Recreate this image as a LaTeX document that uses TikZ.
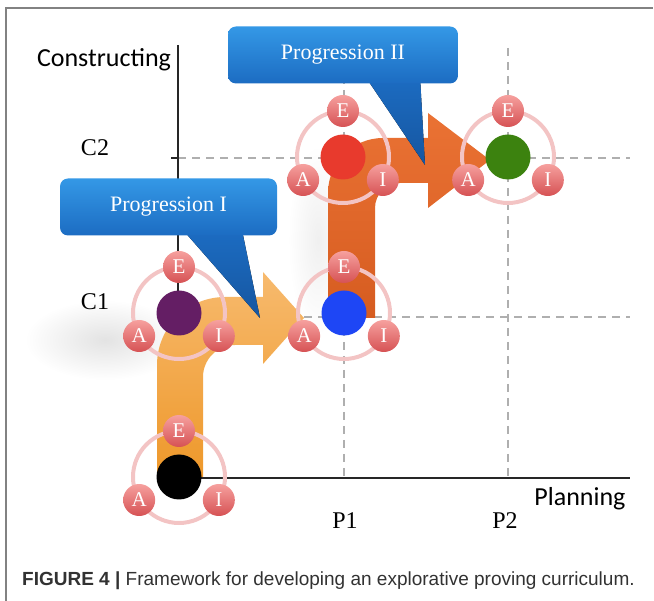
\documentclass[tikz,border=0pt]{standalone}
\usepackage{fontspec}
\setmainfont{Liberation Serif}
\newfontfamily\axisfont{Carlito}
\newfontfamily\capfont{Liberation Sans}
\usetikzlibrary{positioning}

\definecolor{framegray}{RGB}{130,130,130}
\definecolor{gridgray}{RGB}{175,175,175}
\definecolor{ringpink}{RGB}{243,196,196}
\definecolor{ballhi}{RGB}{246,160,158}
\definecolor{balllo}{RGB}{214,82,84}
\definecolor{lighttop}{RGB}{247,186,110}
\definecolor{lightbot}{RGB}{238,152,42}
\definecolor{darktop}{RGB}{234,114,52}
\definecolor{darkbot}{RGB}{214,92,32}
\definecolor{calltop}{RGB}{52,152,230}
\definecolor{callbot}{RGB}{28,108,194}
\definecolor{pointbot}{RGB}{22,86,160}
\definecolor{dotpurple}{RGB}{100,30,100}
\definecolor{dotblue}{RGB}{30,70,245}
\definecolor{dotred}{RGB}{232,58,45}
\definecolor{dotgreen}{RGB}{60,130,15}
\definecolor{captext}{RGB}{50,50,50}

\begin{document}
\begin{tikzpicture}[
    x=1pt, y=-1pt,
    dot/.style={circle, minimum size=45pt, inner sep=0pt},
    ball/.style={circle, minimum size=32pt, inner sep=0pt, top color=ballhi, bottom color=balllo,
                 text=white, font=\fontsize{21}{21}\selectfont},
    ring/.style={draw=ringpink, line width=4pt},
    grid/.style={draw=gridgray, line width=1.2pt, dash pattern=on 8pt off 6pt},
    axis/.style={draw=black!85, line width=1.4pt},
    callout/.style={rounded corners=8pt, top color=calltop, bottom color=callbot, text=white,
                    font=\fontsize{22}{22}\selectfont, minimum height=57pt, inner sep=0pt},
    pointer/.style={top color=callbot, bottom color=pointbot},
    lbl/.style={font=\fontsize{24}{24}\selectfont}
]
\useasboundingbox (0,0) rectangle (654,601);

% Frame
\draw[framegray, line width=2pt] (6,601) -- (6,8) -- (653,8);

% Soft shadows
\shade[inner color=black!11, outer color=white] (105,340) ellipse [x radius=80, y radius=40];
\shade[inner color=black!6, outer color=white] (318,240) ellipse [x radius=30, y radius=95];

% Grid
\draw[grid] (178,158) -- (630,158);
\draw[grid] (178,317) -- (630,317);
\draw[grid] (344,48) -- (344,478);
\draw[grid] (508,48) -- (508,478);

% Axes
\coordinate (O) at (178,478);
\coordinate (ytop) at (178,45);
\coordinate (xend) at (630,478);
\draw[axis] (ytop) -- (O) -- (xend);
\draw[axis] (171,158) -- (178,158);

% Labels
\node[font=\axisfont\fontsize{26}{26}\selectfont] (ylab) at (104,60) {Constructing};
\node[font=\axisfont\fontsize{26}{26}\selectfont] (xlab) at (580,499) {Planning};
\node[lbl] (C2) at (95,148) {C2};
\node[lbl] (C1) at (95,302) {C1};
\node[lbl] (P1) at (345,521) {P1};
\node[lbl] (P2) at (505,521) {P2};

% Progression arrows
\shade[top color=lighttop, bottom color=lightbot]
  (157,477) -- (157,365) arc[start angle=180, end angle=270, radius=68]
  -- (263,297) -- (263,272) -- (304,318) -- (263,364) -- (263,345)
  -- (235,345) arc[start angle=270, end angle=180, radius=32]
  -- (203,477) -- cycle;
\shade[top color=darktop, bottom color=darkbot]
  (328,318) -- (328,193) arc[start angle=180, end angle=270, radius=55]
  -- (428,138) -- (428,113) -- (490,160) -- (428,208) -- (428,183)
  -- (400,183) arc[start angle=270, end angle=180, radius=25]
  -- (375,318) -- cycle;

% Stages
\foreach \n/\px/\py/\c in {0/179/477/black, 1/179/313/dotpurple, 2/344/313/dotblue,
                           3/343/157/dotred, 4/508/157/dotgreen} {
  \draw[ring] (\px,\py) circle[radius=46];
  \node[dot, fill=\c] (d\n) at (\px,\py) {};
  \path (d\n.center) ++(0,-46) node[ball] (E\n) {E};
  \path (d\n.center) ++(150:46) node[ball] (A\n) {A};
  \path (d\n.center) ++(30:46) node[ball] (I\n) {I};
}

% Callouts
\fill[pointer] (183,230) -- (242,230) -- (260,318) -- cycle;
\node[callout, minimum width=217pt] (prog1) at (168.5,207) {Progression I};
\fill[pointer] (365,76) -- (420,76) -- (425,165) -- cycle;
\node[callout, minimum width=230pt] (prog2) at (343,55) {Progression II};

% Caption
\node[anchor=west, inner sep=0pt, text=captext, font=\capfont\fontsize{19}{19}\selectfont]
  (cap) at (22,581) {\textbf{FIGURE 4 |} Framework for developing an explorative proving curriculum.};

\end{tikzpicture}
\end{document}
